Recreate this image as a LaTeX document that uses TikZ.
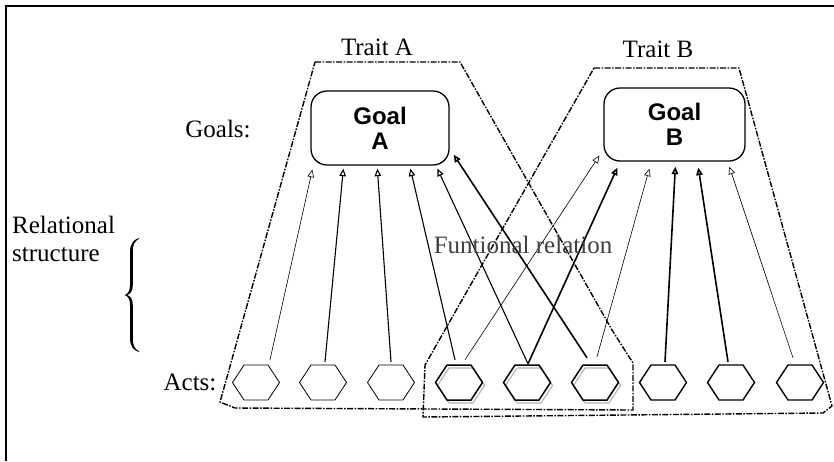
\documentclass[tikz,border=0pt]{standalone}
\usepackage{fontspec}
\setmainfont{Liberation Serif}
\newfontfamily\goalfont{Liberation Sans}
\usetikzlibrary{arrows.meta,calc}
\begin{document}
\begin{tikzpicture}[x=1pt,y=-1pt,
  lbl/.style={font=\fontsize{25}{28}\selectfont, inner sep=0pt},
  goalbox/.style={draw, line width=1.3pt, rounded corners=16pt, align=center,
    font=\goalfont\bfseries\fontsize{24}{25}\selectfont},
  hexnode/.style={minimum width=47pt, minimum height=35pt, inner sep=0pt},
  trait/.style={line width=1.4pt, dash pattern=on 6pt off 1.5pt on 1.5pt off 1.5pt, line join=round},
  arr/.style={-{Triangle[open,length=7.5pt,width=6.5pt]}},
  thinA/.style={arr, line width=0.6pt},
  medA/.style={arr, line width=1.1pt},
  boldA/.style={arr, line width=1.6pt},
  hexa/.pic={\draw (-23.5,0) -- (-12,-17.5) -- (12,-17.5) -- (23.5,0) -- (12,17.5) -- (-12,17.5) -- cycle;},
]
\useasboundingbox (0,0) rectangle (834,461);
\draw[line width=2pt] (6,461) -- (6,6) -- (834,6);

% trait regions
\draw[trait] (315,62) -- (460,62) -- (612,330) -- (633,363) -- (633,410) -- (235,408) -- (220,402) -- cycle;
\draw[trait] (594,68) -- (739,68) -- (832,406) -- (823,413) -- (423,417) -- (425,365) -- cycle;

% goals
\node[goalbox, minimum width=138pt, minimum height=74pt] (gA) at (380,128) {Goal\\A};
\node[goalbox, minimum width=141pt, minimum height=73pt] (gB) at (674.5,124.5) {Goal\\B};

% acts
\foreach \i/\x in {1/256,2/323,3/391,4/459,5/527,6/595,7/663,8/731,9/800}
  \node[hexnode] (h\i) at (\x,382.5) {};
\foreach \i in {1,2,3} {
  \pic[line width=0.8pt] at (h\i) {hexa};
  \draw[gray!70, line width=0.9pt] ($(h\i)+(-12,17.5)$) -- ($(h\i)+(12,17.5)$);
}
\foreach \i in {4,5,6} {
  \pic[line width=1.1pt, gray!60] at ($(h\i)+(2,3)$) {hexa};
  \pic[line width=1.5pt] at (h\i) {hexa};
}
\foreach \i in {7,8,9}
  \pic[line width=1.4pt] at (h\i) {hexa};

% functional relations
\draw[thinA] ($(h1.north)+(14,-5)$) -- ($(gA.south west)+(2,4)$);
\draw[medA]  ($(h2.north)+(2,-3)$)  -- ($(gA.south west)+(33,3)$);
\draw[medA]  ($(h3.north)+(0,-3)$)  -- ($(gA.south west)+(67,3)$);
\draw[medA]  ($(h4.north)+(-4,-5)$) -- ($(gA.south west)+(100,3)$);
\draw[medA]  ($(h5.north)+(1,-1)$)  -- ($(gA.south west)+(127,3)$);
\draw[boldA] ($(h6.north)+(-8,-7)$) -- ($(gA.south east)+(4,-11)$);
\draw[thinA] ($(h4.north)+(6,-5)$)  -- ($(gB.south west)+(-4,-6)$);
\draw[boldA] ($(h5.north)+(1,-1)$)  -- ($(gB.south west)+(14,6)$);
\draw[thinA] ($(h6.north)+(2,-8)$)  -- ($(gB.south west)+(46,7)$);
\draw[boldA] ($(h7.north)+(2,-3)$)  -- ($(gB.south west)+(72,5)$);
\draw[boldA] ($(h8.north)+(-3,-3)$) -- ($(gB.south west)+(95,6)$);
\draw[thinA] ($(h9.north)+(-7,-7)$) -- ($(gB.south west)+(126,5)$);

% labels
\node[lbl] (ta) at (377,47) {Trait A};
\node[lbl] (tb) at (658,49) {Trait B};
\node[lbl] (goals) at (218,129) {Goals:};
\node[lbl, align=left, anchor=west] (rel) at (12,239) {Relational\\structure};
\fill (139,238) .. controls (133,240) and (130,244) .. (130,252) -- (130,285)
  .. controls (130,291) and (128,294) .. (124.5,295)
  .. controls (128,296) and (130,299) .. (130,305) -- (130,338)
  .. controls (130,346) and (133,350) .. (139,352) -- (139,351.3)
  .. controls (135,349) and (132.8,346) .. (132.8,338) -- (132.8,305)
  .. controls (132.8,299) and (130.5,296) .. (127,295)
  .. controls (130.5,294) and (132.8,291) .. (132.8,285) -- (132.8,252)
  .. controls (132.8,244) and (135,241) .. (139,238.7) -- cycle;
\node[lbl] (acts) at (190,382) {Acts:};
\node[lbl, text=black!75] (fr) at (523,245) {Funtional relation};
\end{tikzpicture}
\end{document}
